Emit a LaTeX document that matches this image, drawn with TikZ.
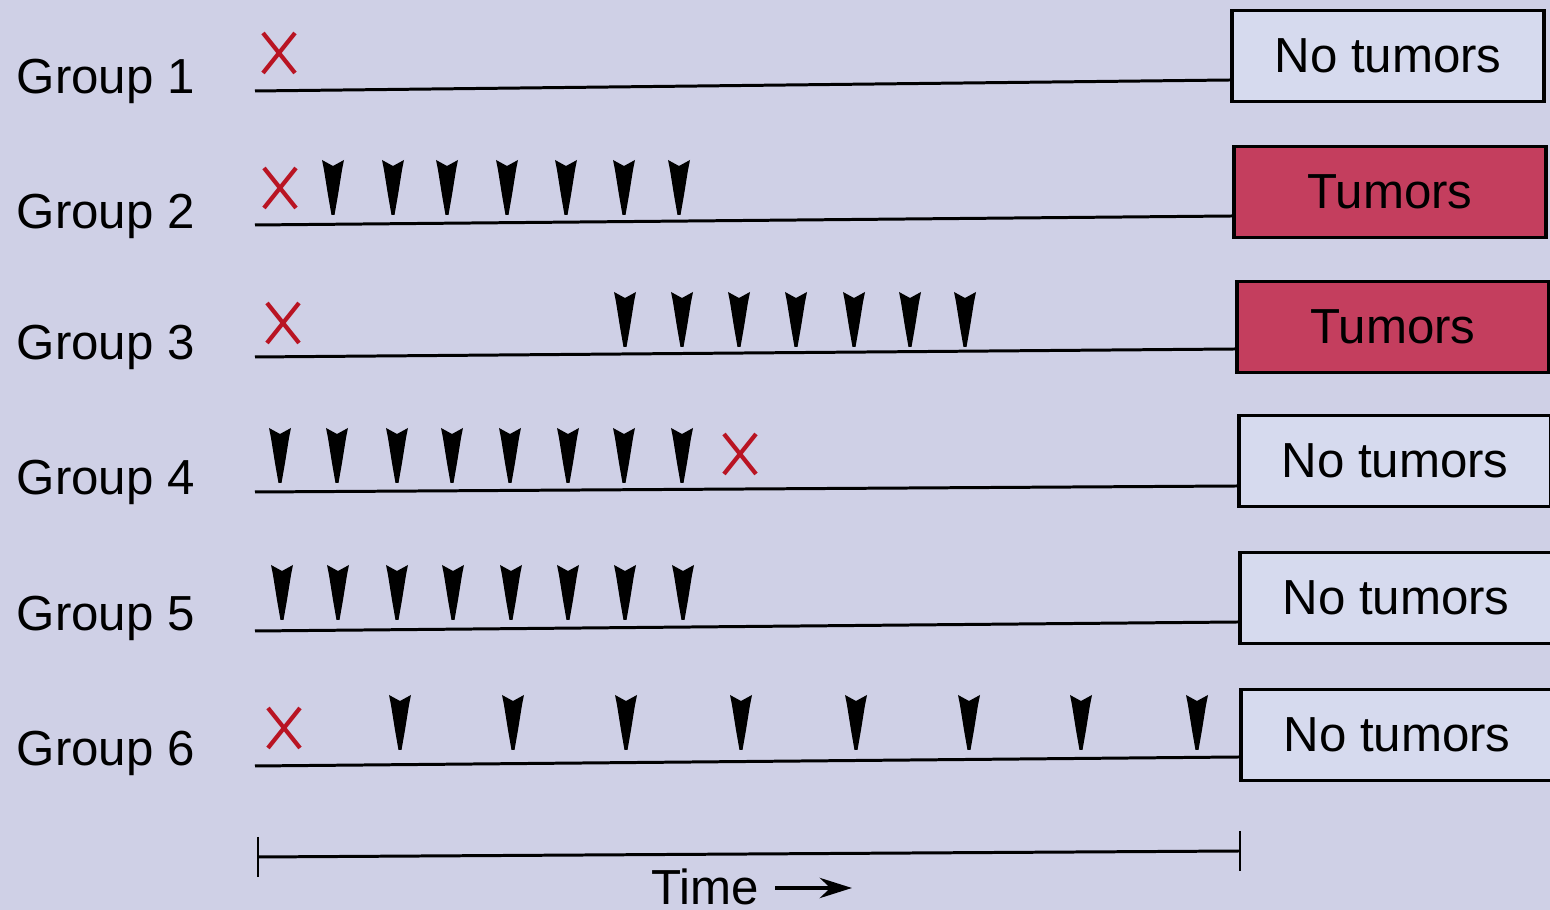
\documentclass[tikz,border=0pt]{standalone}
\usepackage{fontspec}
\setmainfont{Liberation Sans}
\usetikzlibrary{arrows.meta}
\definecolor{lavbg}{RGB}{207,208,230}
\definecolor{noboxfill}{RGB}{214,218,238}
\definecolor{tumorred}{RGB}{196,62,94}
\definecolor{xred}{RGB}{185,20,35}

\tikzset{
  inj/.pic={\fill[black] (-11,0) -- (0,6) -- (11,0) -- (9,10) -- (5,35) -- (1.5,55)
            -- (-1.5,55) -- (-5,35) -- (-9,10) -- cycle;},
  xstroke/.style={draw=xred,line width=1.2pt},
  kill/.pic={\draw[xstroke] (-16,-20) -- (16,20) (-16,20) -- (16,-20);}
}

\begin{document}
\begin{tikzpicture}[x=0.01cm,y=-0.01cm,
    grouplabel/.style={anchor=base west,inner sep=0pt,font=\fontsize{14}{16}\selectfont},
    outcome/.style={draw=black,line width=1.1pt,minimum width=3.12cm,minimum height=0.91cm,
                    inner sep=0pt,font=\fontsize{14}{16}\selectfont},
    nobox/.style={outcome,fill=noboxfill},
    yesbox/.style={outcome,fill=tumorred},
    timeline/.style={line width=0.85pt}]
  \fill[lavbg] (0,0) rectangle (1550,910);
  \useasboundingbox (0,0) rectangle (1550,910);

  % groups, lines and outcome boxes
  \foreach \g/\base/\sy/\ex/\ey/\by/\kind/\txt in {
      1/94/91/1230/80/56/nobox/No tumors,
      2/229/225/1232/216/192/yesbox/Tumors,
      3/360/357/1235/349/327/yesbox/Tumors,
      4/495/492/1237/486/461/nobox/No tumors,
      5/631/631/1238/622/598/nobox/No tumors,
      6/766/766/1239/757/735/nobox/No tumors}{
    \node[grouplabel] (lab\g) at (16,\base) {Group \g};
    \node[\kind,anchor=west] (box\g) at (\ex,\by) {\txt};
    \coordinate (start\g) at (255,\sy);
    \coordinate (end\g) at (\ex,\ey);
    \draw[timeline] (start\g) -- (end\g);
  }

  % X marks
  \foreach \x/\y in {279/53,280/188,283/323,740/454,284/728}
    \pic at (\x,\y) {kill};

  % arrowheads
  \foreach \x in {333,393,447,507,566,624,679} \pic at (\x,160) {inj};
  \foreach \x in {625,682,739,796,854,910,965} \pic at (\x,292) {inj};
  \foreach \x in {280,337,397,452,510,568,624,682} \pic at (\x,428) {inj};
  \foreach \x in {282,338,397,453,511,568,625,683} \pic at (\x,565) {inj};
  \foreach \x in {400,513,626,741,856,969,1081,1197} \pic at (\x,695) {inj};

  % time axis
  \coordinate (t0) at (258,857);
  \coordinate (t1) at (1240,851);
  \draw[timeline] (t0) -- (t1);
  \draw[timeline] ([yshift=0.2cm]t0) -- ([yshift=-0.2cm]t0);
  \draw[timeline] ([yshift=0.2cm]t1) -- ([yshift=-0.2cm]t1);
  \node[grouplabel] (timelab) at (651,905) {Time};
  \coordinate (timetail) at (775,888);
  \coordinate (timehead) at (852,888);
  \draw[line width=1.4pt,-{Stealth[length=0.32cm,width=0.2cm]}] (timetail) -- (timehead);
\end{tikzpicture}
\end{document}
